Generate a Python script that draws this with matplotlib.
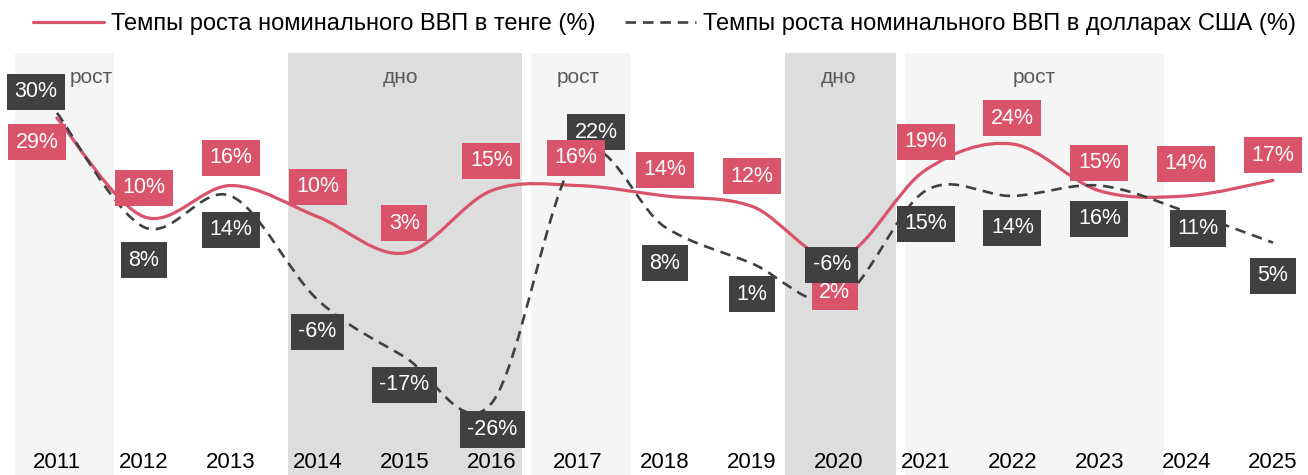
import numpy as np
import matplotlib
matplotlib.use('Agg')
import matplotlib.pyplot as plt
from matplotlib.path import Path
from matplotlib.patches import PathPatch
from matplotlib.lines import Line2D
from matplotlib import transforms

plt.rcParams['font.family'] = ['Liberation Sans', 'DejaVu Sans']

# data
years = [2011, 2012, 2013, 2014, 2015, 2016, 2017, 2018, 2019, 2020, 2021, 2022, 2023, 2024, 2025]
kzt_growth = [29, 10, 16, 10, 3, 15, 16, 14, 12, 2, 19, 24, 15, 14, 17]
usd_growth = [30, 8, 14, -6, -17, -26, 22, 8, 1, -6, 15, 14, 16, 11, 5]
series_names = ['Темпы роста номинального ВВП в тенге (%)',
                'Темпы роста номинального ВВП в долларах США (%)']
phase_names = ['рост', 'дно', 'рост', 'дно', 'рост']

# layout / style
RED = '#D9536B'
DARK = '#404040'
LIGHT_BG = '#F5F5F5'
DARK_BG = '#DDDDDD'
phase_spans = [(2010.52, 2011.66), (2013.66, 2016.35), (2016.46, 2017.60),
               (2019.38, 2020.66), (2020.76, 2023.745)]
phase_colors = [LIGHT_BG, DARK_BG, LIGHT_BG, DARK_BG, LIGHT_BG]
phase_label_x = [2011.40, 2014.96, 2017.00, 2020.00, 2022.25]

# label offsets in pixels (dx, dy)
red_offsets = [(-20, -24), (0, 29), (0, 28), (0, 30), (0, 30), (0, 30), (-2, 28), (0, 26),
               (0, 30), (-4, -34), (0, 28), (0, 26), (0, 28), (0, 32), (0, 25)]
dark_offsets = [(-21, 21), (0, -33), (0, -34), (0, -32), (0, -28), (1, -26), (18, 22), (0, -36),
                (0, -31), (-7, 35), (0, -33), (0, -32), (0, -33), (12, -17), (0, -33)]
dark_z = [4, 4, 4, 4, 4, 4, 4, 4, 4, 7, 4, 4, 4, 4, 4]


def smooth_path(x, y):
    # cubic bezier through the points (excel-like smoothing)
    pts = np.column_stack([x, y]).astype(float)
    n = len(pts)
    verts = [pts[0]]
    codes = [Path.MOVETO]
    for i in range(n - 1):
        p0 = pts[max(i - 1, 0)]
        p1 = pts[i]
        p2 = pts[i + 1]
        p3 = pts[min(i + 2, n - 1)]
        verts += [p1 + (p2 - p0) / 6, p2 - (p3 - p1) / 6, p2]
        codes += [Path.CURVE4] * 3
    return Path(verts, codes)


fig = plt.figure(figsize=(13.08, 4.75), dpi=100)
ax = fig.add_axes([0, 0, 1, 422 / 475])
ax.set_xlim(2011 - 57 / 86.86, 2011 + (1308 - 57) / 86.86)
ax.set_ylim(-39.77, 41.54)
ax.axis('off')

blend = transforms.blended_transform_factory(ax.transData, ax.transAxes)

for (x0, x1), c, name, lx in zip(phase_spans, phase_colors, phase_names, phase_label_x):
    ax.axvspan(x0, x1, color=c, lw=0, zorder=0)
    ax.text(lx, 0.943, name, transform=blend, ha='center', va='center',
            fontsize=15, color='#595959', zorder=1)

red_style = dict(color=RED, lw=2.3, solid_capstyle='round')
dark_style = dict(color=DARK, lw=1.9, linestyle=(0, (4, 2.6)))

ax.add_patch(PathPatch(smooth_path(years, kzt_growth), fill=False, zorder=2,
                       edgecolor=RED, lw=2.3, capstyle='round'))
ax.add_patch(PathPatch(smooth_path(years, usd_growth), fill=False, zorder=3,
                       edgecolor=DARK, lw=1.9, linestyle=(0, (4, 2.6))))

for yr, v, (dx, dy) in zip(years, kzt_growth, red_offsets):
    ax.annotate(f'{v}%', (yr, v), xytext=(dx, dy), textcoords='offset pixels',
                ha='center', va='center', color='white', fontsize=15.5, zorder=5,
                bbox=dict(boxstyle='square,pad=0.35', fc=RED, ec='none'))

for yr, v, (dx, dy), z in zip(years, usd_growth, dark_offsets, dark_z):
    ax.annotate(f'{v}%', (yr, v), xytext=(dx, dy), textcoords='offset pixels',
                ha='center', va='center', color='white', fontsize=15.5, zorder=z,
                bbox=dict(boxstyle='square,pad=0.35', fc=DARK, ec='none'))

for yr in years:
    ax.text(yr, 12 / 422, str(yr), transform=blend, ha='center', va='center',
            fontsize=16, color='black')

handles = [Line2D([], [], **red_style), Line2D([], [], **dark_style)]
fig.legend(handles, series_names, loc='center', bbox_to_anchor=(0.508, 1 - 24 / 475),
           ncol=2, frameon=False, fontsize=17, handlelength=3.0, handletextpad=0.3,
           columnspacing=1.25)

fig.savefig('out.png', dpi=100)
